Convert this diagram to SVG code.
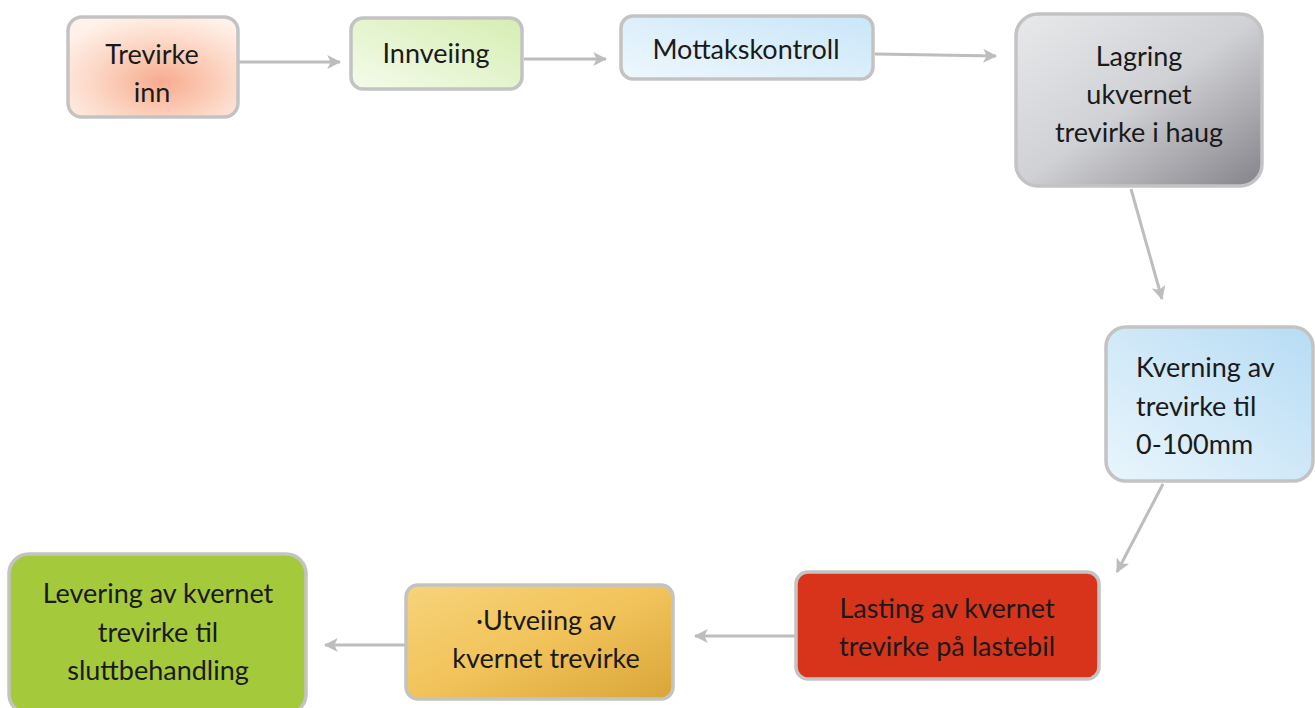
<svg xmlns="http://www.w3.org/2000/svg" width="1315" height="708" viewBox="0 0 1315 708">
<defs>
<radialGradient id="gPeach" cx="0.55" cy="0.65" r="0.7"><stop offset="0" stop-color="#f8ab8e"/><stop offset="0.6" stop-color="#fcd9c8"/><stop offset="1" stop-color="#fff2ea"/></radialGradient>
<linearGradient id="gGreen" x1="0" y1="1" x2="1" y2="0"><stop offset="0" stop-color="#f4fbea"/><stop offset="1" stop-color="#d5eeb2"/></linearGradient>
<linearGradient id="gBlue" x1="0" y1="1" x2="1" y2="0"><stop offset="0" stop-color="#eef7fd"/><stop offset="1" stop-color="#c9e6f8"/></linearGradient>
<linearGradient id="gGrey" x1="0" y1="0" x2="1" y2="1"><stop offset="0" stop-color="#e8e9eb"/><stop offset="0.5" stop-color="#d0d1d4"/><stop offset="1" stop-color="#85838a"/></linearGradient>
<linearGradient id="gBlue2" x1="0" y1="1" x2="1" y2="0"><stop offset="0" stop-color="#e9f5fc"/><stop offset="1" stop-color="#b7dcf4"/></linearGradient>
<linearGradient id="gGold" x1="0" y1="0" x2="1" y2="1"><stop offset="0" stop-color="#f7d37a"/><stop offset="0.5" stop-color="#f1c35a"/><stop offset="1" stop-color="#d9a538"/></linearGradient>
<marker id="arr" viewBox="0 0 12 12" refX="11" refY="6" markerWidth="14" markerHeight="14" orient="auto" markerUnits="userSpaceOnUse"><path d="M0,0 L12,6 L0,12 L3,6 z" fill="#bdbdbd"/></marker>
</defs>
<style>
.box{stroke:#c3c3c3;stroke-width:3.5}
.t{font-family:Lato,"Open Sans","Liberation Sans",sans-serif;font-size:27px;fill:#1a1a1a;text-anchor:middle}
.tl{text-anchor:start}
.c{stroke:#bdbdbd;stroke-width:3;fill:none;marker-end:url(#arr)}
</style>
<rect width="1315" height="708" fill="#ffffff"/>
<g id="connectors">
<line class="c" x1="239" y1="62" x2="340" y2="62"/>
<line class="c" x1="524" y1="59" x2="606" y2="59"/>
<line class="c" x1="875" y1="54" x2="996" y2="56"/>
<line class="c" x1="1131" y1="189" x2="1162" y2="299"/>
<line class="c" x1="1163" y1="484" x2="1117" y2="572"/>
<line class="c" x1="795" y1="636" x2="695" y2="636"/>
<line class="c" x1="405" y1="645" x2="325" y2="645"/>
</g>
<g id="n1"><rect class="box" x="68" y="17" width="170" height="100" rx="14" fill="url(#gPeach)"/>
<text class="t" x="152" y="64">Trevirke</text><text class="t" x="152" y="102">inn</text></g>
<g id="n2"><rect class="box" x="351" y="18" width="171" height="71" rx="12" fill="url(#gGreen)"/>
<text class="t" x="436" y="63">Innveiing</text></g>
<g id="n3"><rect class="box" x="621" y="16" width="252" height="63" rx="12" fill="url(#gBlue)"/>
<text class="t" x="746" y="59">Mottakskontroll</text></g>
<g id="n4"><rect class="box" x="1016" y="14" width="246" height="172" rx="22" fill="url(#gGrey)"/>
<text class="t" x="1139" y="66">Lagring</text><text class="t" x="1139" y="104">ukvernet</text><text class="t" x="1139" y="142">trevirke i haug</text></g>
<g id="n5"><rect class="box" x="1106" y="327" width="207" height="154" rx="20" fill="url(#gBlue2)"/>
<text class="t tl" x="1136" y="377">Kverning av</text><text class="t tl" x="1136" y="416">trevirke til</text><text class="t tl" x="1136" y="454">0-100mm</text></g>
<g id="n6"><rect class="box" x="796" y="572" width="303" height="107" rx="12" fill="#d8341c"/>
<text class="t" x="947" y="618">Lasting av kvernet</text><text class="t" x="947" y="656">trevirke på lastebil</text></g>
<g id="n7"><rect class="box" x="406" y="585" width="267" height="114" rx="12" fill="url(#gGold)"/>
<text class="t" x="546" y="630">·Utveiing av</text><text class="t" x="546" y="668">kvernet trevirke</text></g>
<g id="n8"><rect class="box" x="9" y="554" width="297" height="160" rx="20" fill="#a4c93b"/>
<text class="t" x="158" y="603">Levering av kvernet</text><text class="t" x="158" y="642">trevirke til</text><text class="t" x="158" y="680">sluttbehandling</text></g>
</svg>
